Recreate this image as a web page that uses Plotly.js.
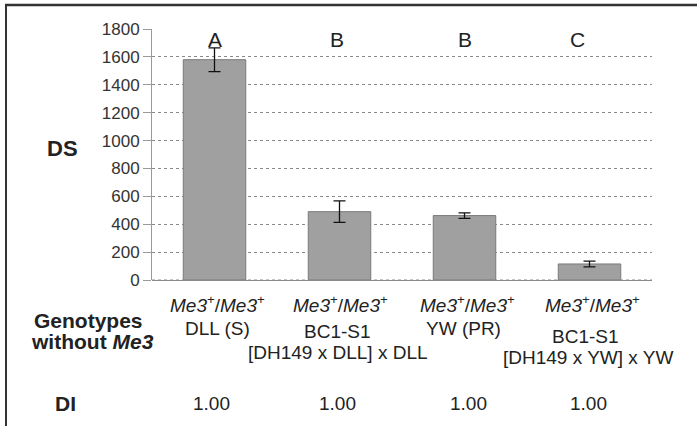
<!DOCTYPE html>
<html>
<head>
<meta charset="utf-8">
<script src="https://cdn.plot.ly/plotly-3.0.1.min.js"></script>
<style>html,body{margin:0;padding:0;background:#fff;}#chart{width:697px;height:426px;}</style>
</head>
<body>
<div id="chart"></div>
<script>
// ---- data ----
var categories = ["DLL", "BC1-S1 DLL", "YW", "BC1-S1 YW"];
var dsValues = [1580, 490, 462, 115];
var dsErrors = [85, 77, 20, 21];
var groupLetters = ["A", "B", "B", "C"];
var genoLine1 = ["<i>Me3</i><sup>+</sup>/<i>Me3</i><sup>+</sup>", "<i>Me3</i><sup>+</sup>/<i>Me3</i><sup>+</sup>", "<i>Me3</i><sup>+</sup>/<i>Me3</i><sup>+</sup>", "<i>Me3</i><sup>+</sup>/<i>Me3</i><sup>+</sup>"];
var genoLine2 = ["DLL (S)", "BC1-S1", "YW (PR)", "BC1-S1"];
var genoLine3 = ["", "[DH149 x DLL] x DLL", "", "[DH149 x YW] x YW"];
var diValues = ["1.00", "1.00", "1.00", "1.00"];
var yTicks = [0, 200, 400, 600, 800, 1000, 1200, 1400, 1600, 1800];

// ---- layout helpers (pixel -> paper) ----
var L = 152, R = 652, T = 29, B = 280;
function px(x) { return (x - L) / (R - L); }
function py(y) { return (B - y) / (B - T); }

var font = "Liberation Sans, Arial, sans-serif";
var txt = "#222";
var annotations = [];
function addText(x, y, text, size) {
  annotations.push({xref: "paper", yref: "paper", x: px(x), y: py(y), text: text,
    showarrow: false, font: {family: font, size: size, color: txt},
    xanchor: "center", yanchor: "middle"});
}

// significance letters
var letterX = [215, 337, 465, 577];
groupLetters.forEach(function (t, i) { addText(letterX[i], 40, t, 21); });

// genotype labels
var l1x = [217, 340, 467, 592];
var l2x = [217, 337, 463, 585];
var l2y = [328, 331, 328, 336];
var l3x = [0, 338, 0, 588];
var l3y = [0, 352, 0, 357];
for (var i = 0; i < categories.length; i++) {
  addText(l1x[i], 304, genoLine1[i], 19);
  addText(l2x[i], l2y[i], genoLine2[i], 19);
  if (genoLine3[i]) addText(l3x[i], l3y[i], genoLine3[i], 19);
}
// DI values
var diX = [211, 337, 468, 588];
diValues.forEach(function (t, i) { addText(diX[i], 403, t, 19); });

// row headers
addText(88, 320, "<b>Genotypes</b>", 21);
addText(92, 341, "<b>without <i>Me3</i></b>", 21);
addText(65, 403, "<b>DI</b>", 21);
addText(62, 148, "<b>DS</b>", 22);

var trace = {
  type: "bar",
  x: categories,
  y: dsValues,
  width: 0.5,
  marker: {color: "#a0a0a0", line: {color: "#7a7a7a", width: 1}},
  error_y: {type: "data", array: dsErrors, visible: true, color: "#111", thickness: 1.3, width: 6}
};

var layout = {
  width: 697, height: 426,
  margin: {l: L, r: 697 - R, t: T, b: 426 - B, pad: 0},
  paper_bgcolor: "#fff", plot_bgcolor: "#fff",
  showlegend: false,
  xaxis: {type: "category", showticklabels: false, showgrid: false, zeroline: false,
    showline: false, ticks: ""},
  yaxis: {range: [0, 1800], tickvals: yTicks, ticktext: yTicks.map(String),
    showgrid: true, gridcolor: "#8a8a8a", griddash: "dot", gridwidth: 1,
    zeroline: true, zerolinecolor: "#8a8a8a", zerolinewidth: 1,
    showline: true, linecolor: "#9a9a9a", linewidth: 1,
    ticks: "outside", ticklen: 8, tickcolor: "#9a9a9a",
    tickfont: {family: font, size: 17, color: "#333"}, fixedrange: true},
  annotations: annotations,
  shapes: [
    {type: "line", xref: "paper", yref: "paper", x0: px(5), x1: px(697), y0: py(5), y1: py(5),
      line: {color: "#333", width: 2.5}},
    {type: "line", xref: "paper", yref: "paper", x0: px(6), x1: px(6), y0: py(5), y1: py(426),
      line: {color: "#333", width: 2}},
    {type: "line", xref: "paper", yref: "paper", x0: 0, x1: 1, y0: 0, y1: 0,
      line: {color: "#8a8a8a", width: 1, dash: "dot"}}
  ]
};

Plotly.newPlot("chart", [trace], layout, {staticPlot: true, displayModeBar: false});
</script>
</body>
</html>
